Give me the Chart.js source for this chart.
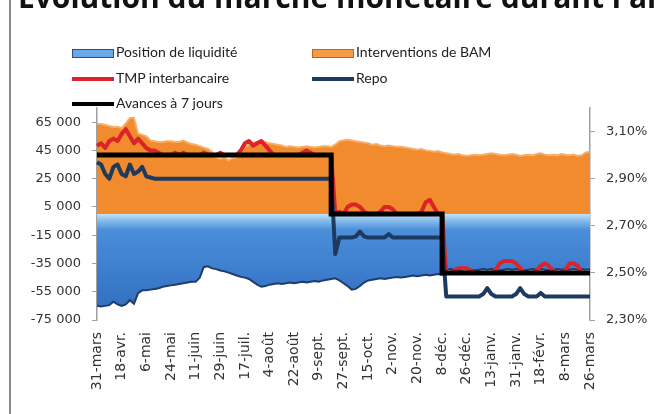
<!DOCTYPE html>
<html><head><meta charset="utf-8">
<script src="https://cdn.jsdelivr.net/npm/chart.js@4"></script>
<style>
html,body{margin:0;padding:0;background:#fff;width:660px;height:414px;overflow:hidden;}
#wrap{position:relative;width:660px;height:414px;overflow:hidden;}
#title{position:absolute;left:18px;top:-18px;font:bold 30px 'Open Sans';line-height:30px;white-space:nowrap;color:#111;}
#frame{position:absolute;left:9px;top:0;width:2px;height:414px;background:#8a8a8a;}
.lg{position:absolute;font:14px Lato;color:#222;line-height:16px;white-space:nowrap;}
.sw{position:absolute;box-sizing:border-box;}
canvas{position:absolute;left:0;top:0;}
</style></head>
<body>
<div id="wrap">
<canvas id="c" width="660" height="414"></canvas>
<div id="title">Evolution du marché monétaire durant l'année</div>
<div id="frame"></div>
<div id="legend"></div>
</div>
<script>
// ---- data ----
const tickLabels = ['31-mars','18-avr.','6-mai','24-mai','11-juin','29-juin','17-juil.','4-août','22-août','9-sept.','27-sept.','15-oct.','2-nov.','20-nov.','8-déc.','26-déc.','13-janv.','31-janv.','18-févr.','8-mars','26-mars'];
const leftTicks = [-75000,-55000,-35000,-15000,5000,25000,45000,65000];
const rightTicks = [2.30,2.50,2.70,2.90,3.10];
const seriesNames = ['Position de liquidité','Interventions de BAM','TMP interbancaire','Repo','Avances à 7 jours'];

// one value every 3 days, 31-mars .. 26-mars
const position = [
-65000,-65500,-65000,-64500,-62000,-64000,-65000,-64000,-61000,-63500,
-56000,-54000,-54000,-53500,-53000,-52500,-51500,-51000,-50500,-50000,
-49500,-49000,-48500,-48000,-48000,-45000,-37500,-37000,-38500,-39000,
-40000,-40500,-41500,-42500,-43500,-44500,-45000,-46000,-48000,-50000,
-51500,-51000,-50000,-49500,-49000,-49500,-49000,-48500,-49000,-48500,
-48000,-48500,-48000,-47500,-48000,-47000,-46500,-46000,-45500,-47000,
-49000,-51000,-53500,-53000,-51000,-48500,-47000,-46500,-46000,-45500,
-46000,-45500,-45000,-44500,-45000,-44500,-44000,-43500,-44000,-43500,
-43000,-43500,-43000,-42500,-43000,-39500,-39000,-39500,-40000,-39500,
-39000,-39500,-40000,-39500,-39000,-39500,-39000,-39500,-40000,-39500,
-39000,-39500,-39000,-39500,-40000,-39500,-39000,-39500,-39000,-39500,
-40000,-39500,-39000,-39500,-39000,-39500,-39000,-39500,-39000,-39500,
-39000];
const interventions = [
63700,63700,63000,62300,61500,61500,60800,64000,68000,68000,
57000,56000,55000,52000,51500,51000,51000,51500,51500,51000,
51000,52000,50500,49500,49000,48000,47000,46000,44000,40000,
39000,40000,38000,39500,40000,43000,47500,49000,50500,51000,
51500,51000,50000,49500,49000,48500,47500,48000,47500,47000,
47500,48000,47500,47000,47500,48000,48000,47500,49000,51500,
52000,52500,52000,51500,51000,50500,50000,49000,49500,48500,
48000,48500,48000,47500,47500,47000,46500,46000,45500,46000,
45000,44500,44000,44500,43500,43000,42500,42000,42500,41500,
41000,41500,42000,41500,42000,42500,43000,42500,42000,41500,
42000,42500,42000,41000,41500,42000,41500,42500,43000,42000,
41500,42000,41500,42500,42000,41500,42000,41000,41500,43500,
44000];
const tmp = [
3.04,3.05,3.03,3.06,3.07,3.06,3.09,3.11,3.08,3.05,
3.07,3.05,3.03,3.02,3.02,3.01,3.00,3.00,3.00,3.01,
3.00,3.01,3.00,3.00,3.00,3.00,3.01,3.00,3.00,3.00,
3.01,3.00,3.00,3.00,3.00,3.02,3.05,3.06,3.04,3.05,
3.06,3.04,3.02,3.00,3.00,3.00,3.00,3.00,3.00,3.00,
3.01,3.02,3.01,3.00,3.00,3.00,3.00,3.00,2.75,2.76,
2.75,2.78,2.79,2.79,2.78,2.76,2.75,2.75,2.75,2.76,
2.78,2.78,2.77,2.75,2.75,2.75,2.75,2.75,2.75,2.76,
2.80,2.81,2.78,2.75,2.75,2.50,2.50,2.51,2.52,2.52,
2.52,2.51,2.50,2.50,2.50,2.50,2.50,2.51,2.54,2.55,
2.55,2.55,2.54,2.52,2.50,2.50,2.50,2.51,2.53,2.54,
2.53,2.51,2.50,2.50,2.51,2.54,2.54,2.53,2.50,2.50,
2.50];
const repo = [
2.97,2.96,2.92,2.90,2.95,2.96,2.92,2.91,2.96,2.92,
2.93,2.95,2.91,2.905,2.90,2.90,2.90,2.90,2.90,2.90,
2.90,2.90,2.90,2.90,2.90,2.90,2.90,2.90,2.90,2.90,
2.90,2.90,2.90,2.90,2.90,2.90,2.90,2.90,2.90,2.90,
2.90,2.90,2.90,2.90,2.90,2.90,2.90,2.90,2.90,2.90,
2.90,2.90,2.90,2.90,2.90,2.90,2.90,2.90,2.58,2.65,
2.65,2.65,2.65,2.655,2.675,2.655,2.65,2.65,2.65,2.65,
2.65,2.665,2.65,2.65,2.65,2.65,2.65,2.65,2.65,2.65,
2.65,2.65,2.65,2.65,2.65,2.40,2.40,2.40,2.40,2.40,
2.40,2.40,2.40,2.40,2.41,2.435,2.41,2.40,2.40,2.40,
2.40,2.40,2.41,2.435,2.41,2.40,2.40,2.40,2.415,2.40,
2.40,2.40,2.40,2.40,2.40,2.40,2.40,2.40,2.40,2.40,
2.40];
const avances = [
3.00,3.00,3.00,3.00,3.00,3.00,3.00,3.00,3.00,3.00,
3.00,3.00,3.00,3.00,3.00,3.00,3.00,3.00,3.00,3.00,
3.00,3.00,3.00,3.00,3.00,3.00,3.00,3.00,3.00,3.00,
3.00,3.00,3.00,3.00,3.00,3.00,3.00,3.00,3.00,3.00,
3.00,3.00,3.00,3.00,3.00,3.00,3.00,3.00,3.00,3.00,
3.00,3.00,3.00,3.00,3.00,3.00,3.00,3.00,2.75,2.75,
2.75,2.75,2.75,2.75,2.75,2.75,2.75,2.75,2.75,2.75,
2.75,2.75,2.75,2.75,2.75,2.75,2.75,2.75,2.75,2.75,
2.75,2.75,2.75,2.75,2.75,2.50,2.50,2.50,2.50,2.50,
2.50,2.50,2.50,2.50,2.50,2.50,2.50,2.50,2.50,2.50,
2.50,2.50,2.50,2.50,2.50,2.50,2.50,2.50,2.50,2.50,
2.50,2.50,2.50,2.50,2.50,2.50,2.50,2.50,2.50,2.50,
2.50];

// categories: tick label every 6th sample (18 days)
const categories = position.map((_, i) => (i % 6 === 0 ? tickLabels[i / 6] : ''));

const fmtLeft = v => (v < 0 ? '-' : '') + String(Math.abs(v)).replace(/\B(?=(\d{3})+(?!\d))/g, ' ');
const fmtRight = v => v.toFixed(2).replace('.', ',') + '%';

const blueFill = (ctx) => {
  const ch = ctx.chart;
  if (!ch.chartArea) return '#3f7fcf';
  const y0 = ch.scales.y.getPixelForValue(0);
  const y1 = ch.scales.y.getPixelForValue(-66000);
  const g = ch.ctx.createLinearGradient(0, y0, 0, y1);
  g.addColorStop(0, '#c3e2f9');
  g.addColorStop(0.07, '#86bdec');
  g.addColorStop(0.17, '#4b8ed9');
  g.addColorStop(0.6, '#3e7ecf');
  g.addColorStop(1, '#3370c0');
  return g;
};

const styles = [
  {type:'area', fill:'#6aa8e6', border:'#2f4f7a'},
  {type:'area', fill:'#f59a45', border:'#b8681f'},
  {type:'line', color:'#dc2329'},
  {type:'line', color:'#1d3a5f'},
  {type:'line', color:'#000000'}
];

const chart = new Chart(document.getElementById('c'), {
  type: 'line',
  data: {
    labels: categories,
    datasets: [
      {label: seriesNames[0], data: position, yAxisID: 'y', fill: 'origin', backgroundColor: blueFill,
       borderColor: '#1f3d6b', borderWidth: 2, pointRadius: 0, order: 4},
      {label: seriesNames[1], data: interventions, yAxisID: 'y', fill: 'origin', backgroundColor: '#f28a2e',
       borderColor: '#f7ae66', borderWidth: 2, pointRadius: 0, order: 3},
      {label: seriesNames[2], data: tmp, yAxisID: 'y1', fill: false, borderColor: '#dc2329',
       borderWidth: 4, pointRadius: 0, order: 2, borderJoinStyle: 'round'},
      {label: seriesNames[3], data: repo, yAxisID: 'y1', fill: false, borderColor: '#1d3a5f',
       borderWidth: 4, pointRadius: 0, order: 1, borderJoinStyle: 'round'},
      {label: seriesNames[4], data: avances, yAxisID: 'y1', fill: false, borderColor: '#000000',
       borderWidth: 5, pointRadius: 0, order: 0, stepped: 'after'}
    ]
  },
  options: {
    responsive: false,
    animation: false,
    devicePixelRatio: 1,
    layout: {padding: {top: 108, left: 0, right: 0, bottom: 0}},
    plugins: {legend: {display: false}, tooltip: {enabled: false}, title: {display: false}},
    scales: {
      x: {
        type: 'category', offset: false,
        grid: {display: false},
        border: {display: false},
        ticks: {autoSkip: false, maxRotation: 90, minRotation: 90, padding: 4,
                font: {family: 'DejaVu Sans', size: 14}, color: '#333'},
        afterFit: s => { s.height = 94; s.paddingLeft = 0; s.paddingRight = 0; }
      },
      y: {
        position: 'left', min: -75000, max: 75000,
        afterBuildTicks: s => { s.ticks = leftTicks.map(v => ({value: v})); },
        ticks: {callback: v => fmtLeft(v), padding: 11, font: {family: 'DejaVu Sans', size: 13}, color: '#333'},
        grid: {drawOnChartArea: false, drawTicks: true, tickLength: 5, color: '#a0a0a0'},
        border: {display: true, color: '#a0a0a0', width: 1.5},
        afterFit: s => { s.width = 97; s.paddingTop = 0; s.paddingBottom = 0; }
      },
      y1: {
        position: 'right', min: 2.30, max: 3.20,
        afterBuildTicks: s => { s.ticks = rightTicks.map(v => ({value: v})); },
        ticks: {callback: v => fmtRight(v), padding: 11, font: {family: 'DejaVu Sans', size: 13}, color: '#333'},
        grid: {drawOnChartArea: false, drawTicks: true, tickLength: 5, color: '#a0a0a0'},
        border: {display: true, color: '#a0a0a0', width: 1.5},
        afterFit: s => { s.width = 70; s.paddingTop = 0; s.paddingBottom = 0; }
      }
    }
  }
});

// HTML legend built from the dataset labels
const lgPos = [[72, 53], [312, 53], [72, 79], [312, 79], [72, 104]];
const legend = document.getElementById('legend');
chart.data.datasets.forEach((ds, i) => {
  const [x, y] = lgPos[i];
  const st = styles[i];
  const sw = document.createElement('div');
  sw.className = 'sw';
  if (st.type === 'area') {
    Object.assign(sw.style, {left: x + 'px', top: (y - 4) + 'px', width: '42px', height: '9px',
      background: st.fill, border: '1.5px solid ' + st.border});
  } else {
    Object.assign(sw.style, {left: x + 'px', top: (y - 2) + 'px', width: '42px', height: '4px', background: st.color});
  }
  legend.appendChild(sw);
  const t = document.createElement('div');
  t.className = 'lg';
  t.textContent = ds.label;
  Object.assign(t.style, {left: (x + 44) + 'px', top: (y - 9) + 'px'});
  legend.appendChild(t);
});
</script>
</body></html>
